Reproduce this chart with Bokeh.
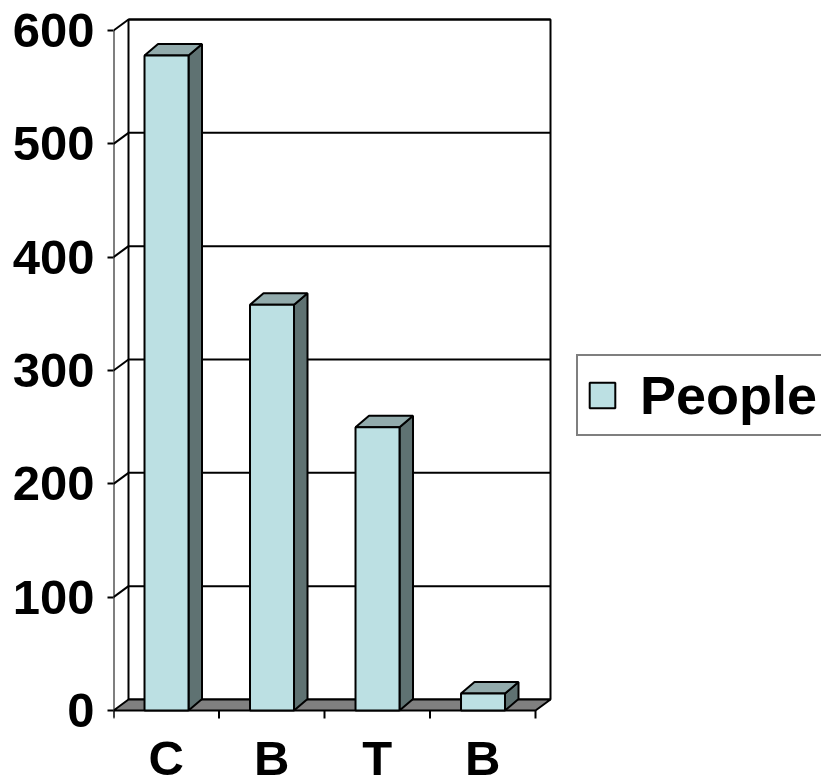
from bokeh.plotting import figure
from bokeh.models import Range1d, FixedTicker, Legend, LegendItem
from bokeh.core.properties import value
from bokeh.embed import file_html
from bokeh.resources import INLINE

# ---- data ----
categories = ["C", "B", "T", "B"]
people = [578, 358, 250, 15]
y_ticks = [0, 100, 200, 300, 400, 500, 600]
series_name = "People"

# ---- styling / layout constants ----
FONT = "Liberation Sans"
FRONT = "#BCE0E3"
TOP = "#92ABAC"
SIDE = "#5F7272"
FLOOR = "#808080"

W, H = 821, 784
LEFT = 113                      # frame left (page x)
K = 680 / 600                   # px per value unit
CAT = 105.5                     # px per category
ZERO_PAGE_Y = 710               # page y of value 0 on the front plane
y_end = ZERO_PAGE_Y / K
y_start = (ZERO_PAGE_Y - H) / K
x_end = (W - LEFT) / CAT

WDX, WDY = 15 / CAT, 11 / K       # wall depth
BDX, BDY = 13.5 / CAT, 11.5 / K   # bar depth
BAR_L, BAR_R = 0.294, 0.711       # bar front face within category
LABEL_ANCHOR_PAGE_Y = 757         # text anchor for category labels

n = len(categories)
ymax = y_ticks[-1]

p = figure(width=W, height=H, output_backend="svg", toolbar_location=None,
           x_range=Range1d(0, x_end), y_range=Range1d(y_start, y_end),
           x_axis_location=None, min_border_left=LEFT, min_border_right=0,
           min_border_top=0, min_border_bottom=0)
p.outline_line_color = None
p.grid.visible = False

# back wall
p.patch(x=[WDX, n + WDX, n + WDX, WDX], y=[WDY, WDY, ymax + WDY, ymax + WDY],
        fill_color="white", line_color="black", line_width=2)
# gridlines (back wall + side wall diagonals)
gv = y_ticks[1:]
p.segment(x0=[WDX] * len(gv), y0=[v + WDY for v in gv],
          x1=[n + WDX] * len(gv), y1=[v + WDY for v in gv],
          line_color="black", line_width=2)
p.segment(x0=[0] * len(gv), y0=gv, x1=[WDX] * len(gv), y1=[v + WDY for v in gv],
          line_color="black", line_width=2)
# floor
p.patch(x=[0, n, n + WDX, WDX], y=[0, 0, WDY, WDY],
        fill_color=FLOOR, line_color="black", line_width=2)
# front axis line and category boundary ticks
p.segment(x0=[0], y0=[-7 / K], x1=[0], y1=[ymax], line_color="black", line_width=2)
p.segment(x0=list(range(n + 1)), y0=[0] * (n + 1), x1=list(range(n + 1)),
          y1=[-8 / K] * (n + 1), line_color="black", line_width=2)

# bars
x0s = [i + BAR_L for i in range(n)]
x1s = [i + BAR_R for i in range(n)]
side_xs = [[a, a + BDX, a + BDX, a] for a in x1s]
side_ys = [[0, BDY, v + BDY, v] for v in people]
p.patches(xs=side_xs, ys=side_ys, fill_color=SIDE, line_color="black", line_width=2)
top_xs = [[a, b, b + BDX, a + BDX] for a, b in zip(x0s, x1s)]
top_ys = [[v, v, v + BDY, v + BDY] for v in people]
p.patches(xs=top_xs, ys=top_ys, fill_color=TOP, line_color="black", line_width=2)
front = p.quad(left=x0s, right=x1s, bottom=0, top=people,
               fill_color=FRONT, line_color="black", line_width=2)

# category labels
p.text(x=[i + 0.5 for i in range(n)], y=[(ZERO_PAGE_Y - LABEL_ANCHOR_PAGE_Y) / K] * n,
       text=categories, text_align="center", text_baseline="alphabetic",
       text_font=value(FONT), text_font_style="bold", text_font_size="49px",
       text_color="black")

# y axis
ax = p.yaxis[0]
ax.ticker = FixedTicker(ticks=y_ticks)
ax.axis_line_color = None
ax.major_tick_out = 6
ax.major_tick_in = 0
ax.major_tick_line_width = 2
ax.major_tick_line_color = "black"
ax.minor_tick_line_color = None
ax.major_label_text_font = FONT
ax.major_label_text_font_style = "bold"
ax.major_label_text_font_size = "49px"
ax.major_label_text_color = "black"
ax.major_label_standoff = 13

# legend
legend = Legend(items=[LegendItem(label=series_name, renderers=[front])],
                location=(463, 348), orientation="vertical",
                glyph_width=32, glyph_height=32, label_standoff=22,
                padding=8, margin=0, spacing=0,
                label_text_font=FONT, label_text_font_style="bold",
                label_text_font_size="54px", label_text_color="black",
                border_line_color="black", border_line_width=2,
                background_fill_color="white", background_fill_alpha=1)
p.add_layout(legend)

open("out.html", "w").write(file_html(p, INLINE))
